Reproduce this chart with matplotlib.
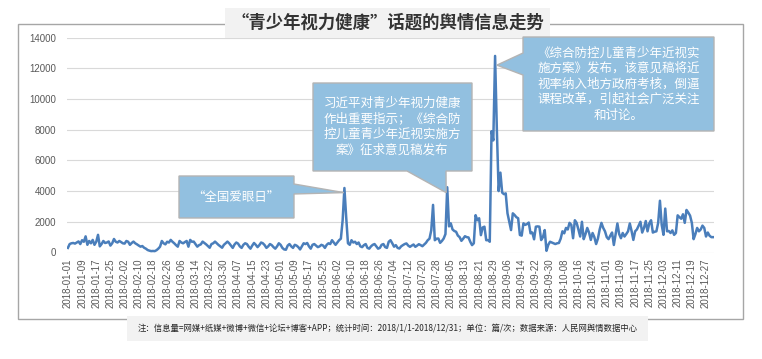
import matplotlib
matplotlib.use('Agg')
import matplotlib.pyplot as plt
import numpy as np
import pandas as pd
from matplotlib.patches import Polygon, Rectangle

# daily message volume, 2018
jan = [300, 550, 600, 620, 580, 650, 720, 550, 800, 700, 1050, 500, 750, 600, 820, 500,
       700, 1150, 400, 550, 750, 620, 650, 720, 450, 600, 880, 700, 650, 750, 680]
feb = [600, 580, 750, 700, 500, 620, 710, 600, 530, 450, 380, 420, 310, 250, 160, 120,
       90, 100, 90, 150, 250, 380, 750, 600, 530, 700, 650, 820]
mar = [700, 600, 480, 380, 750, 650, 600, 680, 750, 380, 820, 700, 710, 550, 380, 480,
       530, 710, 620, 530, 420, 310, 550, 600, 710, 600, 490, 400, 310, 500, 600]
apr = [710, 600, 450, 300, 520, 650, 580, 400, 300, 500, 600, 550, 380, 250, 450, 620,
       500, 350, 480, 650, 600, 480, 300, 400, 550, 480, 350, 250, 400, 600]
may = [500, 300, 200, 180, 450, 550, 400, 300, 500, 450, 350, 200, 400, 600, 550, 620,
       400, 250, 500, 550, 450, 350, 400, 500, 450, 300, 500, 600, 550, 800, 650]
jun = [500, 650, 800, 900, 2100, 4200, 2300, 600, 500, 800, 650, 700, 550, 650, 400, 350,
       480, 550, 300, 250, 400, 500, 550, 400, 250, 300, 500, 550, 350, 300]
jul = [700, 800, 600, 380, 480, 300, 260, 400, 480, 550, 590, 450, 370, 450, 520, 370,
       450, 540, 480, 410, 520, 630, 800, 900, 1450, 3100, 800, 900, 910, 630, 750]
aug = [910, 1200, 4250, 1700, 1900, 1500, 1400, 1350, 1100, 1000, 760, 900, 1060, 1000, 980, 700,
       480, 600, 2430, 2100, 2230, 1130, 1630, 1680, 800, 810, 700, 7900, 7300, 12800, 8000]
sep = [4000, 5200, 3900, 3800, 3850, 2550, 2000, 1460, 2550, 2440, 2300, 2230, 1140, 1100, 1900,
       1800, 1850, 1950, 1250, 1300, 860, 1680, 1700, 1680, 810, 1000, 1460, 110, 500, 700]
oct_ = [650, 600, 550, 600, 620, 900, 1380, 1250, 1600, 1500, 1930, 1800, 930, 2100, 1930, 1500,
        1040, 2000, 870, 1200, 1600, 1300, 820, 1270, 1000, 550, 900, 1500, 1930, 1600, 1380]
nov = [1000, 870, 1100, 1300, 490, 1200, 1890, 1200, 930, 1270, 1040, 1200, 1380, 1890, 1400,
       820, 1380, 1500, 1750, 2000, 1300, 1600, 2050, 1380, 1900, 2100, 1300, 1350, 1380, 1930]
dec = [3370, 1800, 1150, 2860, 1380, 1400, 1270, 1440, 1150, 1270, 2420, 2300, 2200, 2490, 1930,
       2770, 2600, 2400, 1930, 870, 1200, 1600, 1380, 1500, 1750, 1600, 1040, 1300, 1090, 1000, 1000]

values = jan + feb + mar + apr + may + jun + jul + aug + sep + oct_ + nov + dec
dates = pd.date_range('2018-01-01', '2018-12-31', freq='D')
date_labels = [d.strftime('%Y-%m-%d') for d in dates]
y_ticks = [0, 2000, 4000, 6000, 8000, 10000, 12000, 14000]

title = '“青少年视力健康”话题的舆情信息走势'
note1 = '“全国爱眼日”'
note2 = '习近平对青少年视力健康\n作出重要指示；《综合防\n控儿童青少年近视实施方\n案》征求意见稿发布'
note3 = '《综合防控儿童青少年近视实\n施方案》发布，该意见稿将近\n视率纳入地方政府考核，倒逼\n课程改革，引起社会广泛关注\n和讨论。'
footnote = ('注：信息量=网媒+纸媒+微博+微信+论坛+博客+APP；统计时间：2018/1/1-2018/12/31；'
            '单位：篇/次；数据来源：人民网舆情数据中心')

W, H = 762, 359
cjk = ['Noto Sans CJK SC', 'DejaVu Sans']
plt.rcParams['font.family'] = ['Liberation Sans', 'DejaVu Sans']


def px(x, y):
    return (x / W, 1 - y / H)


fig = plt.figure(figsize=(W / 100, H / 100), dpi=100)
ax = fig.add_axes([67 / W, 1 - 252.5 / H, 647 / W, 215 / H])

xs = np.arange(len(values))
ax.plot(xs, values, color='#4a7ebb', lw=1.8, solid_joinstyle='round', zorder=3)
ax.set_xlim(-0.5, len(values) - 0.5)
ax.set_ylim(0, 14000)
ax.set_yticks(y_ticks)
ax.set_yticklabels([str(v) for v in y_ticks])
ax.set_xticks(xs[::8])
ax.set_xticklabels(date_labels[::8], rotation=90)
ax.grid(axis='y', color='#d9d9d9', lw=0.8)
ax.set_axisbelow(True)
for s in ax.spines.values():
    s.set_visible(False)
ax.tick_params(length=0, labelsize=7, colors='#595959')
ax.tick_params(axis='y', pad=8)
ax.tick_params(axis='x', pad=4)

# outer frame
fig.add_artist(Rectangle(px(18, 319), 725 / W, 295 / H, fill=False, ec='#a6a6a6',
                         lw=1, transform=fig.transFigure, zorder=1))
# title box
fig.add_artist(Rectangle(px(225, 38), 325 / W, 30 / H, fc='#f2f2f2', ec='none',
                         transform=fig.transFigure, zorder=2))
fig.text(*px(388, 23), title, family=cjk, fontsize=12.5, fontweight='bold',
         color='#333333', ha='center', va='center', zorder=3)
# footnote box
fig.add_artist(Rectangle(px(127, 341), 521 / W, 25 / H, fc='#f2f2f2', ec='none',
                         transform=fig.transFigure, zorder=2))
fig.text(*px(388, 328), footnote, family=cjk, fontsize=6, color='#262626',
         ha='center', va='center', zorder=3)


def tip_px(i, v):
    # data point -> pixel coords measured from the top-left corner
    dx, dy = ax.transData.transform((i, v))
    return (dx, H - dy)


def callout(points, text, center):
    pts = [px(*p) for p in points]
    fig.add_artist(Polygon(pts, closed=True, fc='#92c0e0', ec='#b4b4b4', lw=1,
                           transform=fig.transFigure, zorder=5))
    fig.text(*px(*center), text, family=cjk, fontsize=9, color='white', ha='center',
             va='center', linespacing=1.25, zorder=6)


i1 = 151 + int(np.argmax(jun))
i2 = 212 + int(np.argmax(aug[:10]))
i3 = int(np.argmax(values))
t1 = tip_px(i1 - 0.3, values[i1] - 300)
t2 = tip_px(i2 - 0.6, values[i2] - 350)
t3 = tip_px(i3 + 1, values[i3] - 600)

callout([(179, 176), (294, 176), (294, 184), t1, (294, 194), (294, 218), (179, 218)],
        note1, (236, 197))
callout([(313, 83), (472, 83), (472, 171), (446, 171), t2, (407, 171), (313, 171)],
        note2, (392, 127))
callout([(523, 37), (714, 37), (714, 131), (523, 131), (523, 75), t3, (523, 53)],
        note3, (619, 84))

fig.savefig('out.png', dpi=100)
